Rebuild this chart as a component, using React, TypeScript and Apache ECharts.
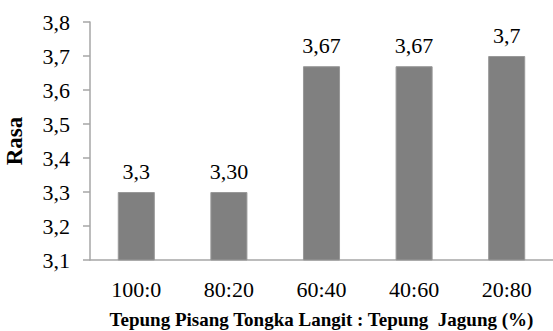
import React, { useEffect, useRef } from "react";
import * as echarts from "echarts";

const categories = ["100:0", "80:20", "60:40", "40:60", "20:80"];
const values = [3.3, 3.3, 3.67, 3.67, 3.7];
const valueLabels = ["3,3", "3,30", "3,67", "3,67", "3,7"];
const yMin = 3.1;
const yMax = 3.8;
const yStep = 0.1;
const xTitle = "Tepung Pisang Tongka Langit : Tepung  Jagung (%)";
const yTitle = "Rasa";

const serif = "Liberation Serif";

export default function App() {
  const ref = useRef<HTMLDivElement>(null);

  useEffect(() => {
    if (!ref.current) return;
    const chart = echarts.init(ref.current, undefined, { renderer: "svg" });
    chart.setOption({
      animation: false,
      backgroundColor: "#ffffff",
      grid: {
        left: 90,
        right: 0,
        top: 22,
        bottom: 71,
        containLabel: false,
        outerBoundsMode: "none",
      },
      xAxis: {
        type: "category",
        data: categories,
        axisLine: { lineStyle: { color: "#a6a6a6", width: 1.5 } },
        axisTick: { show: false },
        axisLabel: { color: "#000", fontFamily: serif, fontSize: 22, margin: 18 },
        name: xTitle,
        nameLocation: "middle",
        nameGap: 50,
        nameTextStyle: { color: "#000", fontFamily: serif, fontSize: 19, fontWeight: "bold" },
      },
      yAxis: {
        type: "value",
        min: yMin,
        max: yMax,
        interval: yStep,
        splitLine: { show: false },
        axisLine: { show: true, lineStyle: { color: "#a6a6a6", width: 1.5 } },
        axisTick: { show: true, length: 7, lineStyle: { color: "#a6a6a6", width: 1.5 } },
        axisLabel: {
          color: "#000",
          fontFamily: serif,
          fontSize: 22,
          margin: 20,
          formatter: (v: number) => v.toFixed(1).replace(".", ","),
        },
        name: yTitle,
        nameLocation: "middle",
        nameGap: 64,
        nameRotate: 90,
        nameTextStyle: {
          color: "#000",
          fontFamily: serif,
          fontSize: 23,
          fontWeight: "bold",
          lineHeight: 24,
        },
      },
      series: [
        {
          type: "bar",
          data: values,
          barWidth: "40%",
          itemStyle: { color: "#808080", borderColor: "#999999", borderWidth: 1 },
          label: {
            show: true,
            position: "top",
            distance: 10,
            color: "#000",
            fontFamily: serif,
            fontSize: 22,
            formatter: (p: { dataIndex: number }) => valueLabels[p.dataIndex],
          },
        },
      ],
    });
    return () => chart.dispose();
  }, []);

  return (
    <div
      ref={ref}
      style={{ position: "fixed", left: 0, top: 0, width: 553, height: 331 }}
    />
  );
}
